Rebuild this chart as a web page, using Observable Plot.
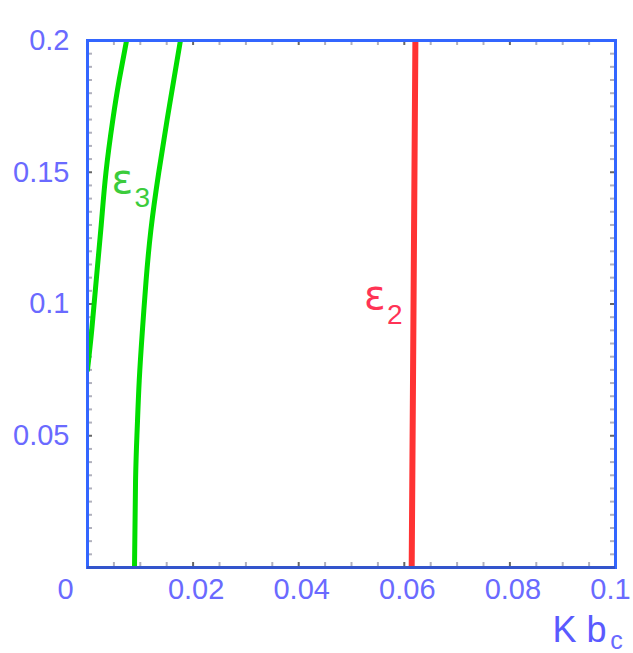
<!DOCTYPE html>
<html><head><meta charset="utf-8">
<script src="https://cdn.jsdelivr.net/npm/d3@7"></script>
<script src="https://cdn.jsdelivr.net/npm/@observablehq/plot@0.6"></script>
<style>body{margin:0;background:#fff} #chart{width:633px;height:653px}</style>
</head><body><div id="chart"></div>
<script>
// ε3 inner branch (x = K b_c, y = vertical value)
const eps3InnerY = [0.075, 0.09, 0.11, 0.13, 0.15, 0.17, 0.185, 0.2];
const eps3InnerX = [0.0, 0.0008, 0.0017, 0.0026, 0.0035, 0.0048, 0.006, 0.0074];
// ε3 outer branch
const eps3OuterY = [0, 0.033, 0.052, 0.071, 0.09, 0.109, 0.128, 0.15, 0.175, 0.2];
const eps3OuterX = [0.0089, 0.0091, 0.0094, 0.0098, 0.0104, 0.0111, 0.0120, 0.0135, 0.0155, 0.0176];
// ε2 line
const eps2Y = [0, 0.2];
const eps2X = [0.0614, 0.0621];
// labels
const labelText = ["ε", "ε"];
const labelSub = ["3", "2"];
const labelX = [0.0066, 0.0544];
const labelY = [0.147, 0.1028];
// ticks
const xTicks = [0.02, 0.04, 0.06, 0.08];
const xTickEnd = [0.1];
const xTickStart = [0];
const yTicks = [0.05, 0.1, 0.15, 0.2];
const xMajor = [0.02, 0.04, 0.06, 0.08];
const xMinor = [0.005,0.01,0.015,0.025,0.03,0.035,0.045,0.05,0.055,0.065,0.07,0.075,0.085,0.09,0.095];
const yMinor = [0.005,0.01,0.015,0.02,0.025,0.03,0.035,0.04,0.045,0.055,0.06,0.065,0.07,0.075,0.08,0.085,0.09,0.095,0.105,0.11,0.115,0.12,0.125,0.13,0.135,0.14,0.145,0.155,0.16,0.165,0.17,0.175,0.18,0.185,0.19,0.195];
const xLabel = "K b";
const xLabelSub = "c";

const inner = eps3InnerX.map((x, i) => ({x, y: eps3InnerY[i]}));
const outer = eps3OuterX.map((x, i) => ({x, y: eps3OuterY[i]}));
const red = eps2X.map((x, i) => ({x, y: eps2Y[i]}));
const labels = labelText.map((t, i) => ({t, s: labelSub[i], x: labelX[i], y: labelY[i], c: i === 0 ? "#3ccc3c" : "#ff3355"}));

const tickColor = "#6a6aff";
const W = 633, H = 653, mL = 87, mR = 18, mT = 40, mB = 86;
const innerW = W - mL - mR, innerH = H - mT - mB, tl = 5;

function ticks(xs, ys, color) {
  return [
    Plot.tickX(xs, {x: d => d, stroke: color, strokeWidth: 2, insetTop: innerH - tl}),
    Plot.tickX(xs, {x: d => d, stroke: color, strokeWidth: 2, insetBottom: innerH - tl}),
    Plot.tickY(ys, {y: d => d, stroke: color, strokeWidth: 2, insetRight: innerW - tl}),
    Plot.tickY(ys, {y: d => d, stroke: color, strokeWidth: 2, insetLeft: innerW - tl})
  ];
}

const chart = Plot.plot({
  width: W, height: H,
  marginLeft: mL, marginRight: mR, marginTop: mT, marginBottom: mB,
  style: {fontFamily: "Liberation Sans, Arial, sans-serif", background: "#fff"},
  x: {domain: [0, 0.1], axis: null},
  y: {domain: [0, 0.2], axis: null},
  marks: [
    ...ticks(xMinor, yMinor, "#b0b0bc"),
    ...ticks(xMajor, yTicks, "#666"),
    // tick labels
    Plot.text(xTicks, {x: d => d, frameAnchor: "bottom", lineAnchor: "middle", dy: 22, dx: 3, text: d => String(d), fontSize: 29, fill: tickColor}),
    Plot.text(xTickEnd, {x: d => d, frameAnchor: "bottom", lineAnchor: "middle", dy: 22, dx: -5, text: d => String(d), fontSize: 29, fill: tickColor}),
    Plot.text(xTickStart, {x: d => d, frameAnchor: "bottom", lineAnchor: "middle", dy: 22, dx: -22, text: d => String(d), fontSize: 29, fill: tickColor}),
    Plot.axisY({anchor: "left", ticks: yTicks, tickSize: 0, tickPadding: 18, tickFormat: d => String(d), label: null, fontSize: 29, fill: tickColor}),
    // curves
    Plot.line(inner, {x: "x", y: "y", stroke: "#00dd00", strokeWidth: 5, curve: "natural", clip: true}),
    Plot.line(outer, {x: "x", y: "y", stroke: "#00dd00", strokeWidth: 5, curve: "natural", clip: true}),
    Plot.line(red, {x: "x", y: "y", stroke: "#ff3333", strokeWidth: 6, clip: true}),
    // curve labels
    Plot.text(labels, {x: "x", y: "y", text: "t", fill: "c", fontSize: 40, fontFamily: "DejaVu Sans"}),
    Plot.text(labels, {x: "x", y: "y", text: "s", fill: "c", fontSize: 28, dx: 20, dy: 18}),
    // frame
    Plot.frame({stroke: "#3366ff", strokeWidth: 3}),
    Plot.ruleY([0], {stroke: "#3355cc", strokeWidth: 3}),
    // axis title
    Plot.text([xLabel], {frameAnchor: "bottom-right", text: d => d, textAnchor: "start", lineAnchor: "middle", dx: -63, dy: 63, fontSize: 36, fill: "#5a5aff"}),
    Plot.text([xLabelSub], {frameAnchor: "bottom-right", text: d => d, textAnchor: "middle", lineAnchor: "middle", dx: 1, dy: 73, fontSize: 25, fill: "#6a6aff"})
  ]
});
document.getElementById("chart").append(chart);
</script>
</body></html>
